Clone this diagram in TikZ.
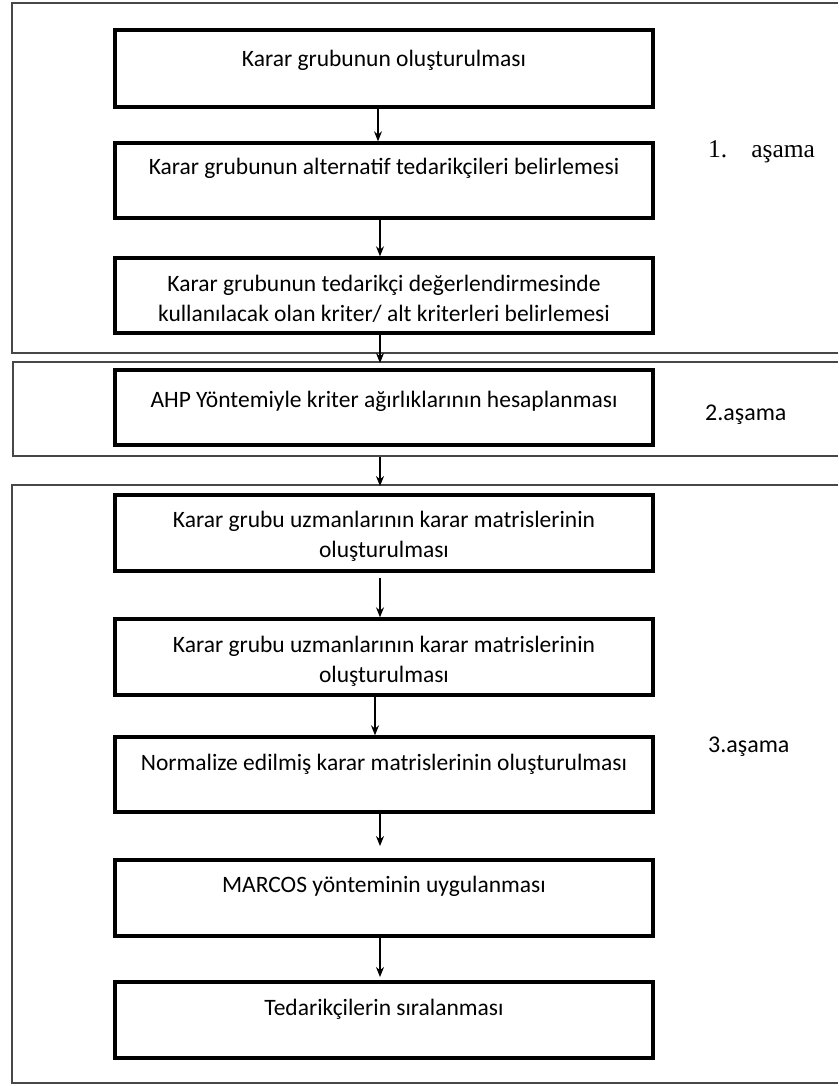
\documentclass[tikz,border=0pt]{standalone}
\usepackage{fontspec}
\setmainfont{Carlito}
\newfontfamily\serifmine{Liberation Serif}
\usetikzlibrary{arrows.meta}
\begin{document}
\begin{tikzpicture}[x=1pt,y=-1pt,
  stepbox/.style={draw=black,line width=3.4pt,minimum width=538pt,inner sep=0pt},
  boxtext/.style={align=center,font=\fontsize{23.5}{30}\selectfont,inner sep=0pt},
  frameline/.style={draw=black!72,line width=1.7pt},
  flow/.style={line width=1.1pt,-{Stealth[length=10pt,width=8pt]}},
  stagelabel/.style={font=\fontsize{24}{26}\selectfont,anchor=west,inner sep=0pt}]
\useasboundingbox (0,0) rectangle (838,1086);
\fill[white] (0,0) rectangle (838,1086);
% frames
\draw[frameline] (838,3) -- (12,3) -- (12,353) -- (838,353);
\draw[frameline] (838,362) -- (13,362) -- (13,456) -- (838,456);
\draw[frameline] (838,485) -- (12,485) -- (12,1083) -- (838,1083);
% boxes
\node[stepbox,minimum height=77pt] (b1) at (384,68.5) {};
\node[stepbox,minimum height=75pt] (b2) at (384,180.5) {};
\node[stepbox,minimum height=75pt] (b3) at (384,295.5) {};
\node[stepbox,minimum height=75pt] (b4) at (384,407.5) {};
\node[stepbox,minimum height=76pt] (b5) at (384,533) {};
\node[stepbox,minimum height=76pt] (b6) at (384,657) {};
\node[stepbox,minimum height=75pt] (b7) at (384,774.5) {};
\node[stepbox,minimum height=76pt] (b8) at (384,898) {};
\node[stepbox,minimum height=76pt] (b9) at (384,1020) {};
% texts
\node[boxtext] (t1) at (384,60) {Karar grubunun oluşturulması};
\node[boxtext] (t2) at (384,168) {Karar grubunun alternatif tedarikçileri belirlemesi};
\node[boxtext] (t3) at (384,299) {Karar grubunun tedarikçi değerlendirmesinde\\kullanılacak olan kriter/ alt kriterleri belirlemesi};
\node[boxtext] (t4) at (384,401) {AHP Yöntemiyle kriter ağırlıklarının hesaplanması};
\node[boxtext] (t5) at (384,536) {Karar grubu uzmanlarının karar matrislerinin\\oluşturulması};
\node[boxtext] (t6) at (384,661) {Karar grubu uzmanlarının karar matrislerinin\\oluşturulması};
\node[boxtext] (t7) at (384,764) {Normalize edilmiş karar matrislerinin oluşturulması};
\node[boxtext] (t8) at (384,886) {MARCOS yönteminin uygulanması};
\node[boxtext] (t9) at (384,1009) {Tedarikçilerin sıralanması};
% stage labels
\node[stagelabel,font=\serifmine\fontsize{25.5}{28}\selectfont] (s1) at (708,152) {1.\hspace{24pt}aşama};
\node[stagelabel] (s2) at (705,415) {2.aşama};
\node[stagelabel] (s3) at (708,747) {3.aşama};
% helper coordinates
\coordinate (f2top) at (380,363);
\coordinate (f2bot) at (380,457);
\coordinate (f3top) at (380,486);
% arrows
\draw[flow] (b1.south -| 378,0) -- (b2.north -| 378,0);
\draw[flow] (b2.south -| 380,0) -- (b3.north -| 380,0);
\draw[flow] (b3.south -| 380,0) -- (f2top);
\draw[flow] (f2bot) -- (f3top);
\draw[flow] (380,578) -- (b6.north -| 380,0);
\draw[flow] (b6.south -| 375,0) -- (b7.north -| 375,0);
\draw[flow] (b7.south -| 380,0) -- (380,846);
\draw[flow] (b8.south -| 380,0) -- (380,977);
\end{tikzpicture}
\end{document}
